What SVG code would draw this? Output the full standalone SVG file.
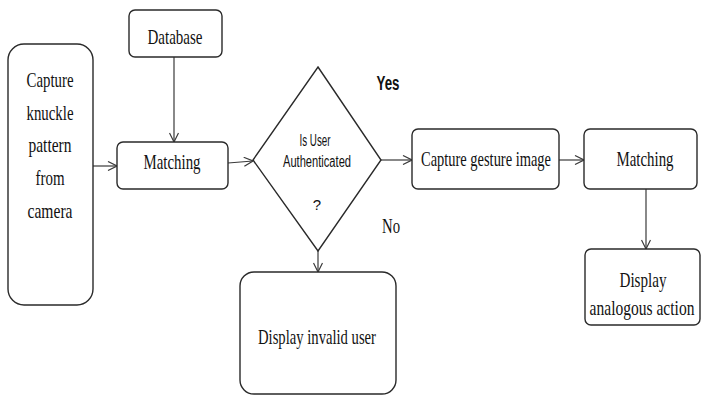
<svg xmlns="http://www.w3.org/2000/svg" width="702" height="406" viewBox="0 0 702 406">
<style>
.box{fill:#fff;stroke:#2a2a2a;stroke-width:1.4}
.ln{fill:none;stroke:#3a3a3a;stroke-width:1.2}
.t{font-family:"Liberation Serif",serif;font-size:21px;fill:#111;text-anchor:middle}
.s{font-family:"Liberation Sans",sans-serif;fill:#111;text-anchor:middle}
</style>
<defs>
<marker id="arr" viewBox="0 0 10 10" refX="10" refY="5" markerWidth="10" markerHeight="10" markerUnits="userSpaceOnUse" orient="auto">
<polyline points="1,0.5 10,5 1,9.5" fill="none" stroke="#3a3a3a" stroke-width="1.2"/>
</marker>
</defs>
<rect width="702" height="406" fill="#fff"/>
<g id="connectors">
<line class="ln" x1="93" y1="166" x2="117" y2="166" marker-end="url(#arr)"/>
<line class="ln" x1="174" y1="57" x2="174" y2="142" marker-end="url(#arr)"/>
<line class="ln" x1="228" y1="163" x2="253" y2="161" marker-end="url(#arr)"/>
<line class="ln" x1="381" y1="160" x2="412" y2="160" marker-end="url(#arr)"/>
<line class="ln" x1="559" y1="160" x2="584" y2="160" marker-end="url(#arr)"/>
<line class="ln" x1="318" y1="251" x2="318" y2="272" marker-end="url(#arr)"/>
<line class="ln" x1="646" y1="189" x2="646" y2="249" marker-end="url(#arr)"/>
</g>
<g id="capture-knuckle">
<rect class="box" x="8" y="44" width="85" height="261" rx="16"/>
<text class="t" x="50" y="87" textLength="47" lengthAdjust="spacingAndGlyphs">Capture</text>
<text class="t" x="50" y="120" textLength="47" lengthAdjust="spacingAndGlyphs">knuckle</text>
<text class="t" x="50" y="152" textLength="43" lengthAdjust="spacingAndGlyphs">pattern</text>
<text class="t" x="50" y="185" textLength="29" lengthAdjust="spacingAndGlyphs">from</text>
<text class="t" x="50" y="218" textLength="45" lengthAdjust="spacingAndGlyphs">camera</text>
</g>
<g id="database">
<rect class="box" x="129" y="10" width="93" height="47" rx="6"/>
<text class="t" x="175" y="44" textLength="55" lengthAdjust="spacingAndGlyphs">Database</text>
</g>
<g id="matching1">
<rect class="box" x="117" y="142" width="111" height="47" rx="6"/>
<text class="t" x="172" y="169" textLength="57" lengthAdjust="spacingAndGlyphs">Matching</text>
</g>
<g id="decision">
<polygon class="box" points="318,67 381,160 318,251 253,160"/>
<text class="s" x="315" y="146" font-size="16" textLength="31" lengthAdjust="spacingAndGlyphs">Is User</text>
<text class="s" x="317" y="167" font-size="16" textLength="68" lengthAdjust="spacingAndGlyphs">Authenticated</text>
<text class="s" x="317" y="210" font-size="15">?</text>
</g>
<text class="s" x="388" y="90" font-size="20" font-weight="bold" textLength="23" lengthAdjust="spacingAndGlyphs">Yes</text>
<text class="t" x="391" y="233" textLength="18" lengthAdjust="spacingAndGlyphs">No</text>
<g id="capture-gesture">
<rect class="box" x="412" y="129" width="147" height="60" rx="6"/>
<text class="t" x="486" y="166" textLength="130" lengthAdjust="spacingAndGlyphs">Capture gesture image</text>
</g>
<g id="matching2">
<rect class="box" x="584" y="129" width="113" height="60" rx="6"/>
<text class="t" x="645" y="166" textLength="57" lengthAdjust="spacingAndGlyphs">Matching</text>
</g>
<g id="display-invalid">
<rect class="box" x="240" y="272" width="156" height="122" rx="14"/>
<text class="t" x="317" y="344" textLength="118" lengthAdjust="spacingAndGlyphs">Display invalid user</text>
</g>
<g id="display-action">
<rect class="box" x="585" y="249" width="115" height="76" rx="6"/>
<text class="t" x="643" y="287" textLength="47" lengthAdjust="spacingAndGlyphs">Display</text>
<text class="t" transform="translate(642,315) scale(0.74,1)" x="0" y="0" font-size="20">analogous action</text>
</g>
</svg>
